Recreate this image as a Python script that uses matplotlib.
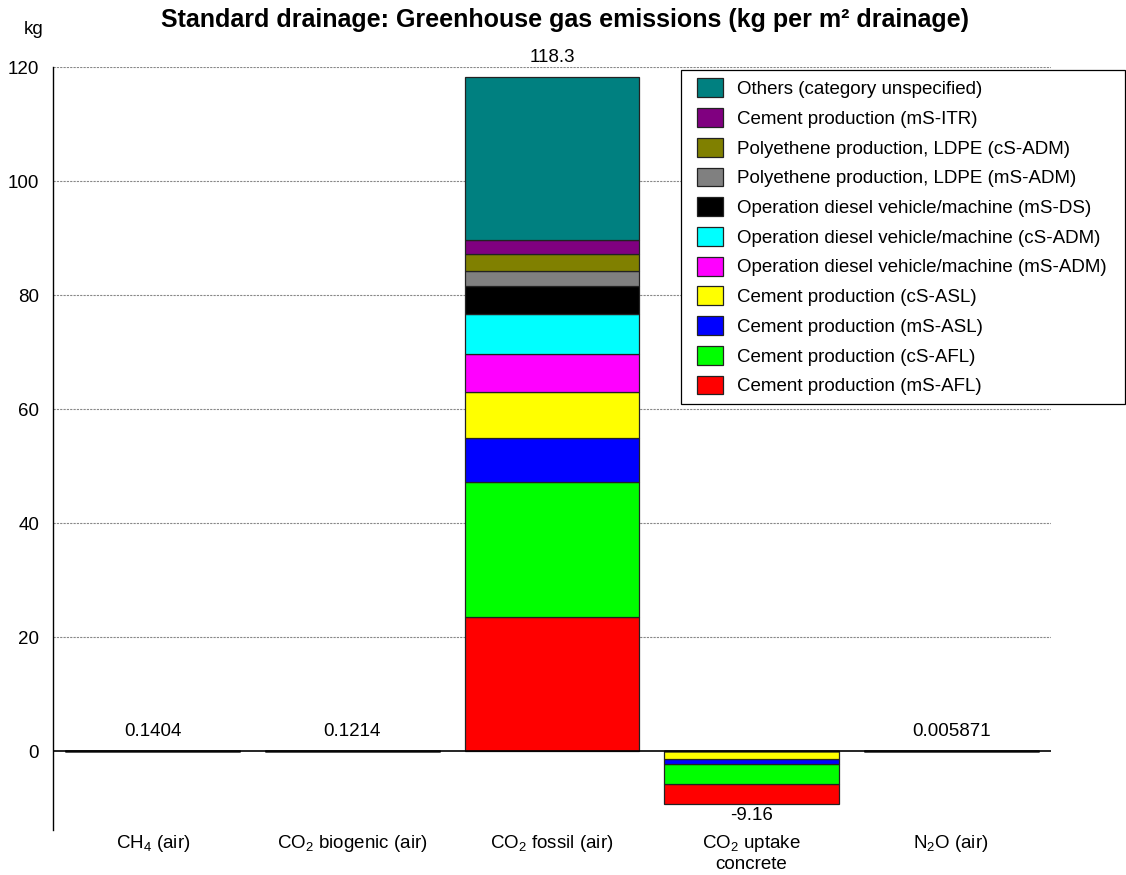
import matplotlib

matplotlib.use("Agg")
import matplotlib.pyplot as plt
from matplotlib.container import BarContainer
from matplotlib.legend_handler import HandlerPatch, update_from_first_child
from matplotlib.patches import Rectangle
import numpy as np

plt.rcParams["font.family"] = ["Liberation Sans", "DejaVu Sans"]
plt.rcParams["mathtext.fontset"] = "custom"
plt.rcParams["mathtext.rm"] = "Liberation Sans"
plt.rcParams["mathtext.it"] = "Liberation Sans:italic"
plt.rcParams["mathtext.default"] = "regular"

# categories on the x axis
categories = ["CH$_4$ (air)", "CO$_2$ biogenic (air)", "CO$_2$ fossil (air)",
              "CO$_2$ uptake\nconcrete", "N$_2$O (air)"]
totals = [0.1404, 0.1214, 118.3, -9.16, 0.005871]
total_labels = ["0.1404", "0.1214", "118.3", "-9.16", "0.005871"]

# stacked contributions, bottom to top (per category)
processes = [
    "Cement production (mS-AFL)",
    "Cement production (cS-AFL)",
    "Cement production (mS-ASL)",
    "Cement production (cS-ASL)",
    "Operation diesel vehicle/machine (mS-ADM)",
    "Operation diesel vehicle/machine (cS-ADM)",
    "Operation diesel vehicle/machine (mS-DS)",
    "Polyethene production, LDPE (mS-ADM)",
    "Polyethene production, LDPE (cS-ADM)",
    "Cement production (mS-ITR)",
    "Others (category unspecified)",
]
colors = ["#ff0000", "#00ff00", "#0000ff", "#ffff00", "#ff00ff", "#00ffff",
          "#000000", "#808080", "#808000", "#800080", "#008080"]
#                CH4    CO2bio  fossil  uptake  N2O
ms_afl =        [0,     0,      23.53,  -3.42,  0]
cs_afl =        [0,     0,      23.72,  -3.44,  0]
ms_asl =        [0,     0,      7.76,   -1.00,  0]
cs_asl =        [0,     0,      7.96,   -1.30,  0]
diesel_ms_adm = [0,     0,      6.72,   0,      0]
diesel_cs_adm = [0,     0,      7.01,   0,      0]
diesel_ms_ds =  [0,     0,      4.86,   0,      0]
ldpe_ms_adm =   [0,     0,      2.63,   0,      0]
ldpe_cs_adm =   [0,     0,      3.03,   0,      0]
cement_ms_itr = [0,     0,      2.45,   0,      0]
others =        [0.1404, 0.1214, 28.63, 0,      0.005871]
series = [ms_afl, cs_afl, ms_asl, cs_asl, diesel_ms_adm, diesel_cs_adm,
          diesel_ms_ds, ldpe_ms_adm, ldpe_cs_adm, cement_ms_itr, others]

FS = 13.5


def square_patch(legend, orig_handle, xdescent, ydescent, width, height, fontsize):
    # legend swatch sits at the right end of the handle box
    w = 26 * 72 / 100
    return Rectangle((-xdescent + width - w, -ydescent), w, height)


fig = plt.figure(figsize=(11.26, 8.75), dpi=100)
ax = fig.add_axes([53 / 1126, 1 - 830 / 875, 998 / 1126, 763 / 875])

x = np.arange(len(categories))
width = 0.875
pos_bottom = np.zeros(len(categories))
# negative parts: stack upward from the negative total, same order as positives
neg_bottom = np.sum(np.minimum(np.array(series, dtype=float), 0), axis=0)
handles = []
for name, vals, col in zip(processes, series, colors):
    vals = np.array(vals, dtype=float)
    bottom = np.where(vals >= 0, pos_bottom, neg_bottom)
    h = ax.bar(x, np.abs(vals), width, bottom=bottom, color=col, edgecolor="#222222",
               linewidth=0.9, label=name, zorder=3)
    handles.append(h)
    pos_bottom += np.where(vals >= 0, vals, 0)
    neg_bottom += np.where(vals < 0, -vals, 0)

# value labels
for xi, tot, lab in zip(x, totals, total_labels):
    if tot >= 0:
        ax.text(xi, tot + 1.9, lab, ha="center", va="bottom", fontsize=FS,
                bbox=dict(facecolor="white", edgecolor="none", pad=1), zorder=5)
    else:
        ax.text(xi, tot - 0.6, lab, ha="center", va="top", fontsize=FS)

ax.axhline(0, color="black", linewidth=1.2, zorder=4)
ax.set_xlim(-0.5, 4.5)
ax.set_ylim(-13.8, 120)
ax.set_yticks([0, 20, 40, 60, 80, 100, 120])
ax.yaxis.grid(True, linestyle=(0, (2, 1)), color="#888888", linewidth=0.8, zorder=0)
ax.set_xticks(x)
ax.set_xticklabels(categories, fontsize=FS)
ax.tick_params(axis="x", length=0, pad=2)
ax.tick_params(axis="y", length=0, pad=10, labelsize=FS)
for s in ["top", "right", "bottom"]:
    ax.spines[s].set_visible(False)
ax.spines["left"].set_linewidth(1.0)
# hide the gridline at 0 (solid zero line drawn instead)
ax.get_ygridlines()[0].set_visible(False)

fig.text(34 / 1126, 1 - 30 / 875, "kg", ha="center", va="center", fontsize=FS)
fig.text(565 / 1126, 1 - 20 / 875,
         "Standard drainage: Greenhouse gas emissions (kg per m² drainage)",
         ha="center", va="center", fontsize=18, fontweight="bold")

leg = fig.legend(handles[::-1], processes[::-1], loc="upper left",
                 bbox_to_anchor=(681 / 1126, 1 - 70 / 875, 444 / 1126, 0),
                 mode="expand", fontsize=FS,
                 frameon=True, fancybox=False, edgecolor="black", framealpha=1,
                 handlelength=1.8, handleheight=1.17, labelspacing=0.53,
                 handletextpad=0.75, borderpad=0.45, borderaxespad=0,
                 handler_map={BarContainer: HandlerPatch(patch_func=square_patch,
                                                         update_func=update_from_first_child)})
leg.get_frame().set_linewidth(0.9)

fig.savefig("out.png", dpi=100)
